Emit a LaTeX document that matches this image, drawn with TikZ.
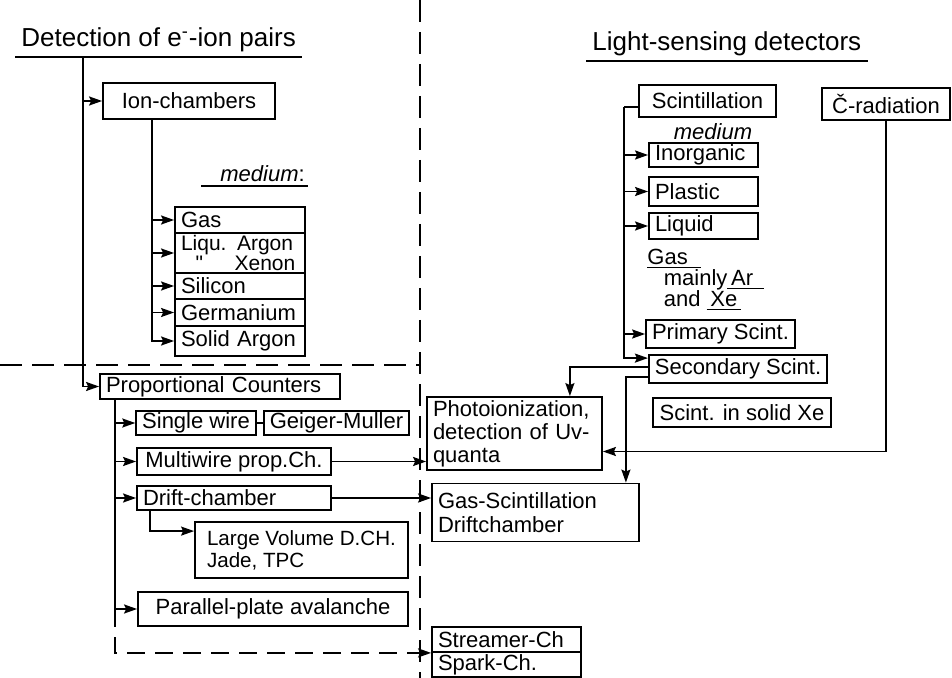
\documentclass[tikz,border=0pt]{standalone}
\usepackage{fontspec}
\setmainfont{Liberation Sans}
\usepackage{tikz}
\usetikzlibrary{positioning, arrows.meta, calc}
\newcommand{\boxfont}{\fontsize{11}{12}\selectfont}
\newcommand{\headfont}{\fontsize{13}{15}\selectfont}

\begin{document}
\begin{tikzpicture}[
  x=0.5pt, y=-0.5pt,
  box/.style={rectangle, draw, line width=0.9pt, inner xsep=3pt, inner ysep=1pt, align=left, font=\boxfont},
  head/.style={inner xsep=3pt, inner ysep=2.5pt, anchor=south west, font=\headfont},
  txt/.style={inner sep=0pt, align=left, font=\boxfont},
  link/.style={-{Stealth[length=6.5pt, width=4.5pt, inset=1pt]}, line width=0.9pt},
  dlink/.style={link, dash pattern=on 9pt off 5pt},
  wire/.style={line width=0.9pt},
  uline/.style={line width=0.8pt},
  divider/.style={line width=0.8pt, dash pattern=on 11pt off 5pt}
]
\useasboundingbox (0,0) rectangle (952,678);

% ===== Headings =====
\node[head] (tdet) at (15,57) {Detection of e\textsuperscript{-}-ion pairs};
\node[head] (tlight) at (586,61) {Light-sensing detectors};
\draw[uline] (tdet.south west) -- (tdet.south east);
\draw[uline] (tlight.south west) -- (tlight.south east);

% ===== Ion chambers =====
\node[box, align=center, minimum width=86pt, minimum height=18pt] (ion) at (189,101) {Ion-chambers};
\node[txt, anchor=base west] (medl) at (220,182) {\textit{medium}:};
\draw[uline] ([xshift=-9.5pt,yshift=-2pt]medl.base west) -- ([xshift=1.5pt,yshift=-2pt]medl.base east);

\node[box, text width=59pt, minimum height=13pt] (gas) at (240,220) {Gas};
\node[box, text width=59pt, minimum height=20pt, inner ysep=0.5pt, font=\fontsize{10.5}{11.5}\selectfont] (liq) at (240,253) {Liqu. Argon\\[-1.5pt]\hspace*{0.7em}\textquotedbl\hspace*{1.5em}Xenon};
\node[box, text width=59pt, minimum height=13pt] (sil) at (240,286) {Silicon};
\node[box, text width=59pt, minimum height=13.5pt] (ger) at (240,312.5) {Germanium};
\node[box, text width=59pt, minimum height=15pt] (sol) at (240,341) {Solid Argon};

% ===== Proportional counters =====
\node[box, text width=114pt, minimum height=10.5pt] (prop) at (220,386.5) {Proportional Counters};
\node[box, align=center, minimum width=59pt, minimum height=12pt] (single) at (196,423) {Single wire};
\node[box, align=center, minimum width=71.5pt, minimum height=12pt] (geiger) at (336.5,423) {Geiger-Muller};
\node[box, align=center, minimum width=97pt, minimum height=13.5pt] (multi) at (234,461.5) {Multiwire prop.Ch.};
\node[box, text width=91pt, minimum height=12pt] (drift) at (234,498) {Drift-chamber};
\node[box, minimum width=106.5pt, minimum height=28pt, font=\fontsize{10.3}{11}\selectfont] (large) at (301.5,550) {Large Volume D.CH.\\Jade, TPC};
\node[box, align=center, minimum width=135pt, minimum height=17pt] (para) at (273,609) {Parallel-plate avalanche};

% ===== Light sensing =====
\node[box, align=center, minimum width=68.5pt, minimum height=16pt] (scint) at (707.5,101) {Scintillation};
\node[box, align=center, minimum width=64pt, minimum height=16pt] (crad) at (886,104) {Č-radiation};
\node[txt] (medr) at (713,132) {\textit{medium}};
\node[box, text width=48.5pt, minimum height=11.5pt] (inorg) at (703.5,155) {Inorganic};
\node[box, text width=48.5pt, minimum height=14.5pt] (plast) at (703.5,191.5) {Plastic};
\node[box, text width=48.5pt, minimum height=13pt] (liqd) at (703.5,226) {Liquid};
\node[txt, anchor=north west, font=\fontsize{11}{10.5}\selectfont] (gasmix) at (647,249)
  {\underline{Gas\hspace{0.6em}}\\\hspace*{0.75em}mainly\underline{\,Ar\hspace{0.5em}}\\\hspace*{0.75em}and \underline{\,Xe\,}};
\node[box, align=center, minimum width=72.5pt, minimum height=14pt] (prim) at (720.5,334) {Primary Scint.};
\node[box, align=center, minimum width=89pt, minimum height=14pt] (sec) at (738,369) {Secondary Scint.};
\node[box, align=center, minimum width=89pt, minimum height=14.5pt] (solidxe) at (742,412.5) {Scint. in solid Xe};

% ===== Combined detectors =====
\node[box, text width=81.5pt, minimum height=36.5pt, font=\fontsize{11}{11.5}\selectfont] (photo) at (514.5,433.5) {Photoionization,\\detection of Uv-\\quanta};
\node[box, text width=97.5pt, minimum height=29pt] (gasd) at (535.5,512.5) {Gas-Scintillation\\Driftchamber};
\node[box, text width=68.5pt, minimum height=12.5pt] (streamer) at (506.5,639.5) {Streamer-Ch};
\node[box, text width=68.5pt, minimum height=12.5pt] (spark) at (506.5,664.5) {Spark-Ch.};

% ===== Dividers =====
\draw[divider] (0,365) -- (420,365);
\draw[divider] (420,0) -- (420,678);

% ===== Links, left =====
\coordinate (ltop) at ($(tdet.south west)+(68,0)$);
\draw[link] (ltop) |- (prop.west);
\draw[link] (ltop |- ion.west) -- (ion.west);

\coordinate (ifoot) at ([xshift=-18.5pt]ion.south);
\draw[link] (ifoot) |- (sol.west);
\foreach \n in {gas,liq,sil,ger}{\draw[link] (ifoot |- \n.west) -- (\n.west);}

\coordinate (pfoot) at ([xshift=8pt]prop.south west);
\draw[link] (pfoot) |- (para.west);
\foreach \n in {single,multi,drift}{\draw[link] (pfoot |- \n.west) -- (\n.west);}
\draw[dlink] (pfoot |- para.west) |- (streamer.south west);

\draw[wire] (single.east) -- (geiger.west);
\draw[link] (multi.east) -- (multi.east -| photo.west);
\draw[link] (drift.east) -- (drift.east -| gasd.west);
\coordinate (dfoot) at ([xshift=7pt]drift.south west);
\draw[link] (dfoot) |- ([yshift=-5pt]large.north west);

% ===== Links, right =====
\coordinate (sfoot) at ([xshift=-7pt,yshift=-3pt]scint.west);
\draw[wire] ([yshift=-3pt]scint.west) -- (sfoot);
\draw[link] (sfoot) |- ([yshift=-2pt]sec.north west);
\foreach \n in {inorg,plast,liqd,prim}{\draw[link] (sfoot |- \n.west) -- (\n.west);}

\draw[link] ([yshift=1pt]sec.west) -| ([xshift=-16.5pt]photo.north east);
\draw[link] ([yshift=-4pt]sec.west) -| ([xshift=-7pt]gasd.north east);
\draw[link] (crad.south) |- ([yshift=-9pt]photo.east);

\end{tikzpicture}
\end{document}
